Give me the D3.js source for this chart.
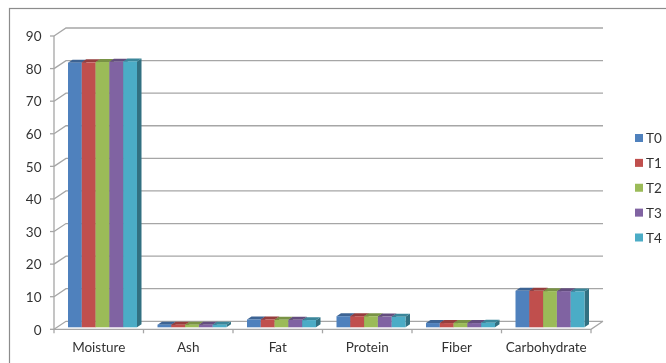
<!DOCTYPE html>
<html><head><meta charset="utf-8">
<style>html,body{margin:0;padding:0;background:#fff}svg{display:block}text{font-family:Lato,"Open Sans",sans-serif;fill:#333}</style>
<script src="https://cdn.jsdelivr.net/npm/d3@7"></script></head>
<body><svg id="c" width="666" height="363"></svg>
<script>
const categories=["Moisture","Ash","Fat","Protein","Fiber","Carbohydrate"];
const seriesNames=["T0","T1","T2","T3","T4"];
const colors=["#4f81bd","#c0504d","#9bbb59","#8064a2","#4bacc6"];
const T0=[81.2,0.8,2.4,3.4,1.3,11.2];
const T1=[81.3,0.8,2.4,3.4,1.3,11.2];
const T2=[81.4,0.8,2.3,3.4,1.3,11.1];
const T3=[81.5,0.8,2.3,3.3,1.3,11.1];
const T4=[81.6,0.8,2.2,3.2,1.4,11.0];
const allSeries=[T0,T1,T2,T3,T4];
const yTicks=[0,10,20,30,40,50,60,70,80,90];

const svg=d3.select("#c");
const defs=svg.append("defs");
defs.append("filter").attr("id","soft").attr("x","-5%").attr("y","-5%").attr("width","110%").attr("height","110%")
  .append("feGaussianBlur").attr("stdDeviation",0.45);
const root=svg.append("g").attr("filter","url(#soft)");

const depthX=12,depthY=8,barDX=4.5,barDY=3;
const y=d3.scaleLinear().domain([0,90]).range([329.3,36]);
const x=d3.scaleBand().domain(categories).range([54,591]);
const inner=d3.scaleBand().domain(seriesNames).range([14,83]);
const gridCol="#a6a6a6";

root.append("rect").attr("x",9.5).attr("y",8.5).attr("width",670).attr("height",370)
  .attr("fill","#fff").attr("stroke","#8c8c8c").attr("stroke-width",1.2);

// wall gridlines
root.append("g").selectAll("path").data(yTicks).join("path")
  .attr("fill","none").attr("stroke",gridCol).attr("stroke-width",1.3)
  .attr("d",d=>d3.line()([[54,y(d)],[54+depthX,y(d)-depthY],[591+depthX,y(d)-depthY]]));

// floor front edge and axes
const axisG=root.append("g").attr("fill","none").attr("stroke",gridCol).attr("stroke-width",1.3);
axisG.append("path").attr("d",d3.line()([[54,y(90)],[54,y(0)],[591,y(0)],[591+depthX,y(0)-depthY]]));
axisG.selectAll(".yt").data(yTicks).join("line").attr("class","yt")
  .attr("x1",50).attr("x2",54).attr("y1",d=>y(d)).attr("y2",d=>y(d));
axisG.selectAll(".xt").data([...categories.map(c=>x(c)),591]).join("line").attr("class","xt")
  .attr("x1",d=>d).attr("x2",d=>d).attr("y1",y(0)).attr("y2",y(0)+4);

// tick labels
root.append("g").selectAll("text").data(yTicks).join("text")
  .attr("x",41.5).attr("y",d=>y(d)+5.2).attr("text-anchor","end").attr("font-size",13.5).text(d=>d);
root.append("g").selectAll("text").data(categories).join("text")
  .attr("x",c=>x(c)+x.bandwidth()/2).attr("y",352).attr("text-anchor","middle").attr("font-size",13.5).text(c=>c);

// bars: drawn left to right so that each one overlaps its neighbour's side
const base=y(0)-2;
const h=v=>y(0)-y(v);
categories.forEach((c,ci)=>{
  const g=root.append("g");
  seriesNames.forEach((s,si)=>{
    const v=allSeries[si][ci],col=d3.color(colors[si]);
    const x0=x(c)+inner(s),w=inner.bandwidth(),t=base-h(v);
    g.append("path").attr("fill",col.darker(1.2))
      .attr("d",d3.line()([[x0+w,t],[x0+w+barDX,t-barDY],[x0+w+barDX,base-barDY],[x0+w,base]])+"Z");
    g.append("path").attr("fill",col.darker(0.7))
      .attr("d",d3.line()([[x0,t],[x0+barDX,t-barDY],[x0+w+barDX,t-barDY],[x0+w,t]])+"Z");
  });
  seriesNames.forEach((s,si)=>{
    const v=allSeries[si][ci];
    const x0=x(c)+inner(s),w=inner.bandwidth(),t=base-h(v);
    g.append("rect").attr("x",x0).attr("y",t).attr("width",w).attr("height",h(v)).attr("fill",colors[si]);
  });
});

// legend
const legendY=d3.scalePoint().domain(seriesNames).range([138,237.5]);
const lg=root.append("g").selectAll("g").data(seriesNames).join("g")
  .attr("transform",s=>`translate(635,${legendY(s)})`);
lg.append("rect").attr("x",0).attr("y",-4).attr("width",8).attr("height",8).attr("fill",(s,i)=>colors[i]);
lg.append("text").attr("x",11).attr("y",5).attr("font-size",13.5).text(s=>s);
</script></body></html>
